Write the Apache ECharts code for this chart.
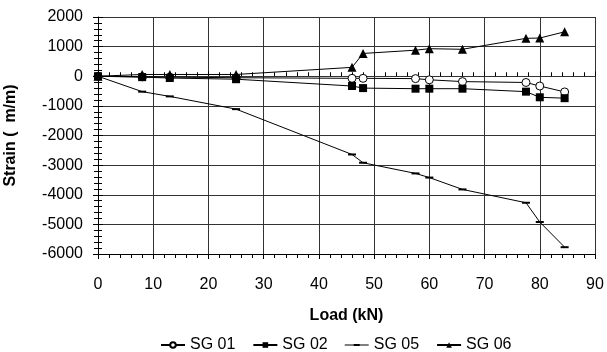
<!DOCTYPE html>
<html>
<head>
    <meta charset="utf-8">
    <title>Strain vs Load</title>
    <script src="https://cdn.jsdelivr.net/npm/echarts@6/dist/echarts.min.js"></script>
</head>
<body style="margin:0;background:#fff;">
    <div id="main" style="width:607px;height:352px;"></div>
    <script type="text/javascript">
        // load steps (kN)
        var load = [0, 8, 13, 25, 46, 48, 57.5, 60, 66, 77.5, 80, 84.5];
        var sg01 = [0, -20, -30, -50, -70, -70, -80, -120, -180, -210, -330, -530];
        var sg02 = [0, -30, -60, -100, -330, -400, -420, -420, -420, -520, -710, -740];
        var sg05 = [0, -520, -680, -1110, -2640, -2920, -3280, -3420, -3820, -4270, -4920, -5770];
        var sg06 = [0, 60, 60, 60, 300, 770, 880, 930, 910, 1280, 1290, 1500];
        var seriesNames = ['SG 01', 'SG 02', 'SG 05', 'SG 06'];

        function pairs(ys) {
            return load.map(function (x, i) { return [x, ys[i]]; });
        }

        var myChart = echarts.init(document.getElementById('main'));
        var font = 'Liberation Sans, Arial, sans-serif';
        var gridLine = { show: true, lineStyle: { color: '#333', width: 1 } };
        // line with a short dash in the middle, padded to the 24x7 legend box
        var dashIcon = 'path://M0,3h24v1h-24zM9,2.5h6v2h-6zM12,0h0.1v0.1h-0.1zM12,6.9h0.1v0.1h-0.1z';

        var option = {
            animation: false,
            backgroundColor: '#fff',
            grid: { left: 98, right: 12, top: 17, bottom: 98, outerBoundsMode: 'none' },
            legend: {
                top: 332,
                left: 155,
                itemWidth: 24,
                itemHeight: 7,
                itemGap: 17,
                textStyle: { fontFamily: font, fontSize: 16, color: '#000' },
                data: [
                    { name: seriesNames[0] },
                    { name: seriesNames[1] },
                    { name: seriesNames[2], icon: dashIcon },
                    { name: seriesNames[3] }
                ]
            },
            xAxis: [{
                type: 'value', min: 0, max: 90, interval: 10,
                name: 'Load (kN)', nameLocation: 'middle', nameGap: 54, nameMoveOverlap: false,
                nameTextStyle: { fontFamily: font, fontSize: 16, fontWeight: 'bold', color: '#000' },
                axisLine: { onZero: false, lineStyle: { color: '#000' } },
                axisTick: { show: true, length: 5, lineStyle: { color: '#000' } },
                minorTick: { show: true, splitNumber: 5, length: 4, lineStyle: { color: '#000' } },
                axisLabel: { fontFamily: font, fontSize: 16, color: '#000', margin: 23 },
                splitLine: gridLine
            }, {
                type: 'value', min: 0, max: 90, interval: 10, position: 'bottom',
                axisLine: { show: false },
                axisTick: { show: true, inside: true, length: 5, lineStyle: { color: '#000' } },
                minorTick: { show: true, splitNumber: 5, length: 4, lineStyle: { color: '#000' } },
                axisLabel: { show: false },
                splitLine: { show: false }
            }],
            yAxis: [{
                type: 'value', min: -6000, max: 2000, interval: 1000,
                name: 'Strain (  m/m)', nameLocation: 'middle', nameGap: 79, nameMoveOverlap: false,
                nameTextStyle: { fontFamily: font, fontSize: 16, fontWeight: 'bold', color: '#000' },
                axisLine: { onZero: false, lineStyle: { color: '#000' } },
                axisTick: { show: true, length: 5, lineStyle: { color: '#000' } },
                minorTick: { show: true, splitNumber: 5, length: 4, lineStyle: { color: '#000' } },
                axisLabel: {
                    fontFamily: font, fontSize: 16, color: '#000', margin: 15,
                    formatter: function (v) { return String(v); }
                },
                splitLine: gridLine
            }, {
                type: 'value', min: -6000, max: 2000, interval: 1000, position: 'left',
                axisLine: { show: false },
                axisTick: { show: true, inside: true, length: 5, lineStyle: { color: '#000' } },
                minorTick: { show: true, splitNumber: 5, length: 4, lineStyle: { color: '#000' } },
                axisLabel: { show: false },
                splitLine: { show: false }
            }],
            series: [{
                name: 'SG 01', type: 'line', data: pairs(sg01),
                symbol: 'circle', symbolSize: 8,
                itemStyle: { color: '#fff', borderColor: '#000', borderWidth: 1 },
                lineStyle: { color: '#000', width: 1 }
            }, {
                name: 'SG 02', type: 'line', data: pairs(sg02),
                symbol: 'rect', symbolSize: 8,
                itemStyle: { color: '#000' },
                lineStyle: { color: '#000', width: 1 }
            }, {
                name: 'SG 05', type: 'line', data: pairs(sg05),
                symbol: 'rect', symbolSize: [8, 2],
                itemStyle: { color: '#000' },
                lineStyle: { color: '#000', width: 1 }
            }, {
                name: 'SG 06', type: 'line', data: pairs(sg06),
                symbol: 'triangle', symbolSize: 9,
                itemStyle: { color: '#000' },
                lineStyle: { color: '#000', width: 1 }
            }]
        };
        myChart.setOption(option);
    </script>
</body>
</html>
